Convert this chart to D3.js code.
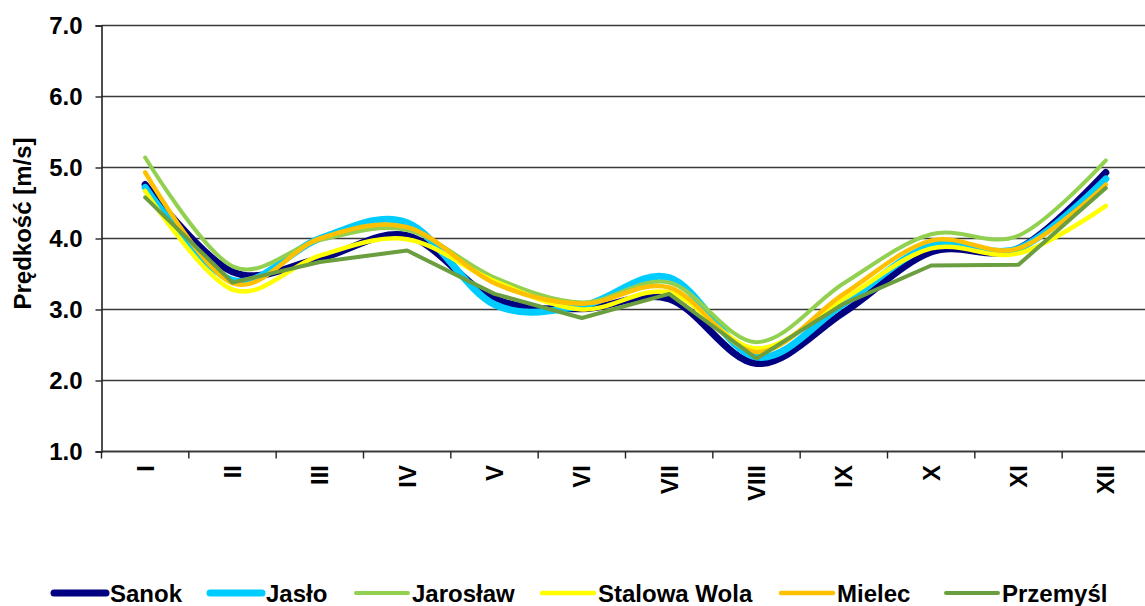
<!DOCTYPE html>
<html>
<head>
<meta charset="utf-8">
<script src="https://cdn.jsdelivr.net/npm/d3@7"></script>
<style>
  html, body { margin: 0; padding: 0; background: #fff; }
  svg { display: block; }
  text { font-family: "Liberation Sans", Arial, sans-serif; font-weight: bold; fill: #000; }
</style>
</head>
<body>
<svg id="chart" width="1145" height="606"></svg>
<script>
// ---- data ----
const months = ["I","II","III","IV","V","VI","VII","VIII","IX","X","XI","XII"];
const yTicks = [1, 2, 3, 4, 5, 6, 7];
const seriesNames = ["Sanok", "Jasło", "Jarosław", "Stalowa Wola", "Mielec", "Przemyśl"];
const sanok    = [4.76, 3.53, 3.72, 4.04, 3.15, 3.01, 3.15, 2.24, 2.96, 3.81, 3.86, 4.93];
const jaslo    = [4.72, 3.41, 4.00, 4.22, 3.07, 3.05, 3.45, 2.33, 3.08, 3.90, 3.86, 4.84];
const jaroslaw = [5.14, 3.61, 3.98, 4.12, 3.45, 3.10, 3.38, 2.54, 3.37, 4.06, 4.04, 5.10];
const stalowa  = [4.67, 3.28, 3.76, 3.99, 3.40, 3.00, 3.24, 2.45, 3.15, 3.86, 3.79, 4.46];
const mielec   = [4.93, 3.37, 4.00, 4.16, 3.37, 3.08, 3.31, 2.40, 3.22, 3.97, 3.86, 4.76];
const przemysl = [4.58, 3.38, 3.67, 3.83, 3.22, 2.88, 3.22, 2.31, 3.08, 3.62, 3.63, 4.71];

// ---- styles ----
const seriesValues = [sanok, jaslo, jaroslaw, stalowa, mielec, przemysl];
const colors = ["#000080", "#00CCFF", "#92D050", "#FFFF00", "#FFC000", "#6B9E3F"];
const widths = [7, 7, 4, 4.5, 4.5, 4];
const smooth = [true, true, true, true, true, false];
const legendX = [52, 208, 354, 540, 779, 944];

const svg = d3.select("#chart");
const pLeft = 101.5, pRight = 1149.5, pTop = 25.5, pBottom = 451.5;

const x = d3.scaleBand().domain(months).range([pLeft, pRight]).paddingInner(0).paddingOuter(0);
const y = d3.scaleLinear().domain([1, 7]).range([pBottom, pTop]);
const cx = m => x(m) + x.bandwidth() / 2;

// gridlines
svg.append("g").selectAll("line").data(yTicks.filter(v => v > 1)).join("line")
  .attr("x1", pLeft).attr("x2", 1145)
  .attr("y1", d => y(d)).attr("y2", d => y(d))
  .attr("stroke", "#3a3a3a").attr("stroke-width", 1.6);

// y axis
const yAxis = svg.append("g").attr("transform", `translate(${pLeft},0)`)
  .call(d3.axisLeft(y).tickValues(yTicks).tickFormat(d3.format(".1f")).tickSize(6).tickPadding(13));
yAxis.select(".domain").attr("stroke", "#222").attr("stroke-width", 1.6);
yAxis.selectAll(".tick line").attr("stroke", "#222").attr("stroke-width", 1.4);
yAxis.selectAll(".tick text").attr("font-size", 24).attr("font-family", "Liberation Sans, Arial, sans-serif")
  .attr("font-weight", "bold").attr("fill", "#000");

// x axis
const xAxisG = svg.append("g").attr("transform", `translate(0,${pBottom})`);
xAxisG.append("line").attr("x1", pLeft).attr("x2", 1145).attr("y1", 0).attr("y2", 0)
  .attr("stroke", "#3a3a3a").attr("stroke-width", 1.8);
const boundaries = months.map(m => x(m)).concat([pRight]);
xAxisG.selectAll("line.tk").data(boundaries).join("line").attr("class", "tk")
  .attr("x1", d => d).attr("x2", d => d).attr("y1", 0).attr("y2", 7)
  .attr("stroke", "#222").attr("stroke-width", 1.4);
svg.append("g").selectAll("text").data(months).join("text")
  .attr("transform", d => `translate(${cx(d)},465) rotate(-90)`)
  .attr("text-anchor", "end").attr("dy", "0.36em")
  .attr("font-size", 24).text(d => d);

// y title
svg.append("text")
  .attr("transform", "translate(23,223.5) rotate(-90)")
  .attr("text-anchor", "middle").attr("dy", "0.35em")
  .attr("font-size", 24).text("Prędkość [m/s]");

// lines
const lineSmooth = d3.line().x((d, i) => cx(months[i])).y(d => y(d)).curve(d3.curveCardinal.tension(0));
const lineStraight = d3.line().x((d, i) => cx(months[i])).y(d => y(d)).curve(d3.curveLinear);
seriesValues.forEach((vals, k) => {
  svg.append("path")
    .attr("d", (smooth[k] ? lineSmooth : lineStraight)(vals))
    .attr("fill", "none")
    .attr("stroke", colors[k])
    .attr("stroke-width", widths[k])
    .attr("stroke-linejoin", "round")
    .attr("stroke-linecap", "round");
});

// legend
const lg = svg.append("g");
seriesNames.forEach((name, k) => {
  const lx = legendX[k];
  lg.append("line").attr("x1", lx + 2).attr("x2", lx + 54).attr("y1", 593).attr("y2", 593)
    .attr("stroke", colors[k]).attr("stroke-width", widths[k]).attr("stroke-linecap", "round");
  lg.append("text").attr("x", lx + 58).attr("y", 602).attr("font-size", 24).text(name);
});
</script>
</body>
</html>
